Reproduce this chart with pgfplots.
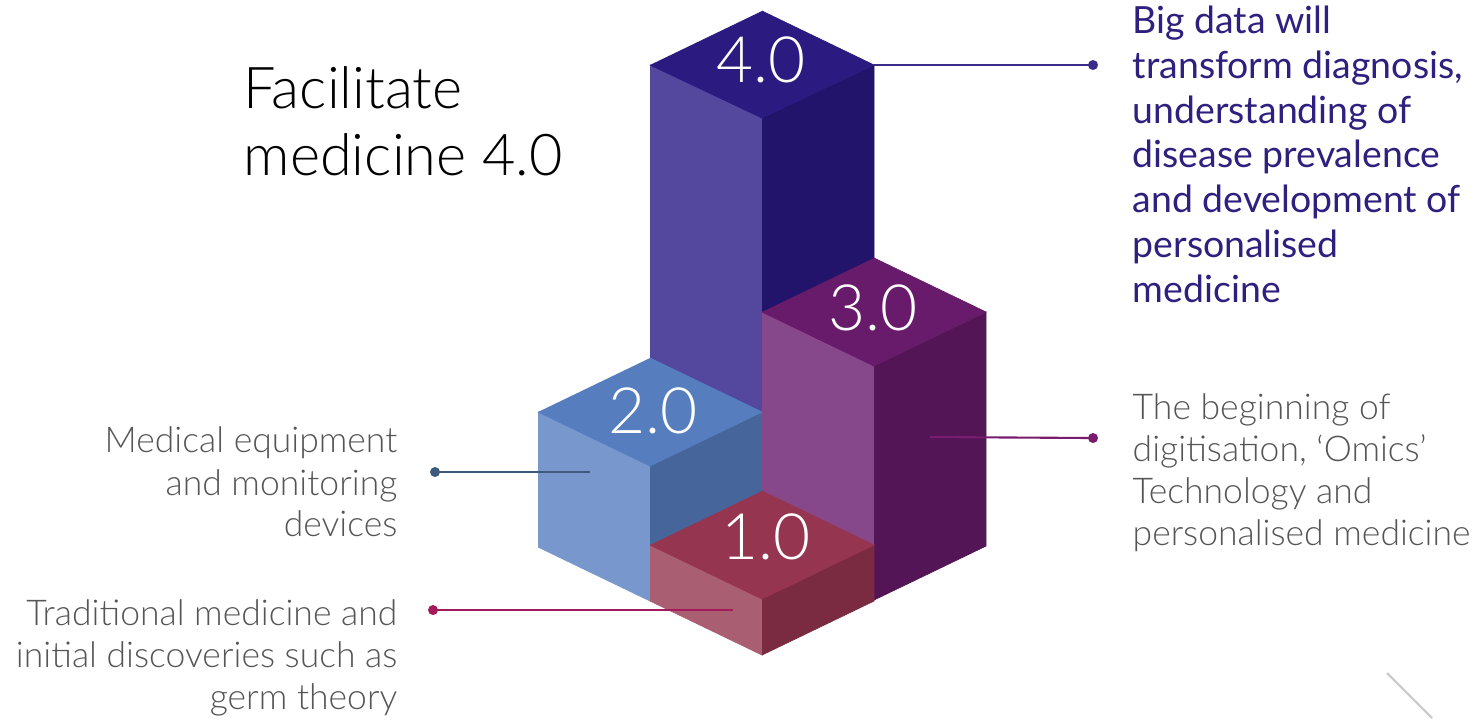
\documentclass[border=0pt]{standalone}
\usepackage{pgfplots}
\pgfplotsset{compat=1.18}
\usepackage{fontspec}
\setmainfont{Lato}
\newfontfamily\lightf{Lato Light}
\definecolor{cfourtop}{HTML}{2B1A80}
\definecolor{cfourleft}{HTML}{54479E}
\definecolor{cfourright}{HTML}{22146B}
\definecolor{cthreetop}{HTML}{681B6A}
\definecolor{cthreeleft}{HTML}{86488A}
\definecolor{cthreeright}{HTML}{531556}
\definecolor{ctwotop}{HTML}{567EBF}
\definecolor{ctwoleft}{HTML}{7898CD}
\definecolor{ctworight}{HTML}{46659B}
\definecolor{conetop}{HTML}{96354F}
\definecolor{coneleft}{HTML}{A95E72}
\definecolor{coneright}{HTML}{7A2A41}
\definecolor{lfour}{HTML}{3B2C8C}
\definecolor{lthree}{HTML}{7A1C6E}
\definecolor{ltwo}{HTML}{3E5B7E}
\definecolor{lone}{HTML}{A31B5B}
\definecolor{bluetext}{HTML}{2F2080}
\definecolor{graytext}{HTML}{555555}
\begin{document}
\begin{tikzpicture}
\begin{axis}[width=14.82cm, height=7.18cm, scale only axis,
  xmin=0, xmax=1482, ymin=0, ymax=718, y dir=reverse,
  hide axis, clip=false,
  face/.style={draw=#1, fill=#1, line width=0.2pt}]
% bounding frame
\addplot[draw=none] coordinates {(0,0) (1482,718)};
% block 4.0 (back)
\addplot[face=cfourleft]  coordinates {(650,65) (762,118) (762,545) (650,492)};
\addplot[face=cfourright] coordinates {(762,118) (874,65) (874,492) (762,545)};
\addplot[face=cfourtop]   coordinates {(762,11) (874,65) (762,118) (650,65)};
% block 2.0 (left)
\addplot[face=ctwoleft]  coordinates {(538,412) (650,466) (650,601) (538,547)};
\addplot[face=ctworight] coordinates {(650,466) (762,412) (762,547) (650,601)};
\addplot[face=ctwotop]   coordinates {(650,358) (762,412) (650,466) (538,412)};
% block 3.0 (right)
\addplot[face=cthreeleft]  coordinates {(762,312) (874,366) (874,600) (762,546)};
\addplot[face=cthreeright] coordinates {(874,366) (986,312) (986,546) (874,600)};
\addplot[face=cthreetop]   coordinates {(874,258) (986,312) (874,366) (762,312)};
% block 1.0 (front)
\addplot[face=coneleft]  coordinates {(650,545) (762,599) (762,655) (650,601)};
\addplot[face=coneright] coordinates {(762,599) (874,545) (874,601) (762,655)};
\addplot[face=conetop]   coordinates {(762,491) (874,545) (762,599) (650,545)};
% leader lines
\addplot[lfour, line width=0.6pt, mark=*, mark size=1.1pt, mark indices={2}] coordinates {(874,65) (1093,65)};
\addplot[lthree, line width=0.6pt, mark=*, mark size=1.1pt, mark indices={2}] coordinates {(930,437) (1093,438)};
\addplot[ltwo, line width=0.6pt, mark=*, mark size=1.1pt, mark indices={1}] coordinates {(435,472) (590,472)};
\addplot[lone, line width=0.6pt, mark=*, mark size=1.1pt, mark indices={1}] coordinates {(433,610) (733,610)};
% corner decoration
\addplot[black!20, line width=0.7pt] coordinates {(1387,673) (1432,718)};
% numbers
\node[text=white, inner sep=0pt, font=\lightf\fontsize{18.2}{20}\selectfont] at (axis cs:761,60) {4.0};
\node[text=white, inner sep=0pt, font=\lightf\fontsize{18.2}{20}\selectfont] at (axis cs:873,308) {3.0};
\node[text=white, inner sep=0pt, font=\lightf\fontsize{18.2}{20}\selectfont] at (axis cs:653,411) {2.0};
\node[text=white, inner sep=0pt, font=\lightf\fontsize{18.2}{20}\selectfont] at (axis cs:766,537) {1.0};
% title
\node[anchor=base west, inner sep=0pt, font=\lightf\fontsize{16.4}{19}\selectfont] at (axis cs:243,108) {Facilitate};
\node[anchor=base west, inner sep=0pt, font=\lightf\fontsize{16.4}{19}\selectfont] at (axis cs:243,175) {medicine 4.0};
% right blue text
\begin{scope}[every node/.style={anchor=base west, inner sep=0pt, text=bluetext, font=\fontsize{10.65}{12}\selectfont}]
\node at (axis cs:1132,33) {Big data will};
\node at (axis cs:1132,78) {transform diagnosis,};
\node at (axis cs:1132,123) {understanding of};
\node at (axis cs:1132,167) {disease prevalence};
\node at (axis cs:1132,212) {and development of};
\node at (axis cs:1132,257) {personalised};
\node at (axis cs:1132,302) {medicine};
\end{scope}
% right gray text
\begin{scope}[every node/.style={anchor=base west, inner sep=0pt, text=graytext, font=\lightf\fontsize{10.1}{12}\selectfont}]
\node at (axis cs:1132,419) {The beginning of};
\node at (axis cs:1132,461) {digitisation, ‘Omics’};
\node at (axis cs:1132,503) {Technology and};
\node at (axis cs:1132,545) {personalised medicine};
\end{scope}
% left gray text
\begin{scope}[every node/.style={anchor=base east, inner sep=0pt, text=graytext, font=\lightf\fontsize{10.1}{12}\selectfont}]
\node at (axis cs:398,452) {Medical equipment};
\node at (axis cs:398,495) {and monitoring};
\node at (axis cs:398,536) {devices};
\node at (axis cs:398,625) {Traditional medicine and};
\node at (axis cs:398,667) {initial discoveries such as};
\node at (axis cs:398,709) {germ theory};
\end{scope}
\end{axis}
\end{tikzpicture}
\end{document}
